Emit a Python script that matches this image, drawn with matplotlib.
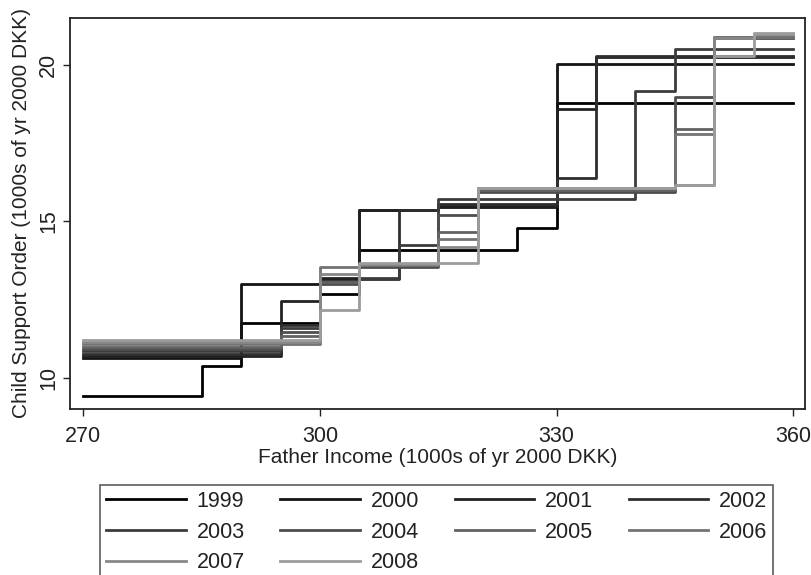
import matplotlib
matplotlib.use("Agg")
import matplotlib.pyplot as plt

plt.rcParams['font.family'] = ['Liberation Sans', 'DejaVu Sans']

# bin edges of father income (1000s of yr 2000 DKK)
edges = [270, 285, 290, 295, 300, 305, 310, 315, 320, 325, 330, 335, 340, 345, 350, 355, 360]

# child support order per income bin, one list per year
y1999 = [9.43, 10.36, 11.76, 11.76, 12.67, 14.08, 14.08, 14.08, 14.08, 14.78, 18.77, 18.77, 18.77, 18.77, 18.77, 18.77]
y2000 = [10.63, 10.63, 13.00, 13.00, 13.15, 15.37, 15.37, 15.45, 15.45, 15.45, 20.04, 20.04, 20.04, 20.04, 20.04, 20.04]
y2001 = [10.70, 10.70, 10.70, 12.46, 13.20, 15.37, 15.37, 15.50, 15.50, 15.50, 18.59, 20.25, 20.25, 20.25, 20.25, 20.25]
y2002 = [10.76, 10.76, 10.76, 11.69, 13.05, 13.15, 15.37, 15.55, 15.55, 15.55, 16.37, 20.30, 20.30, 20.30, 20.30, 20.30]
y2003 = [10.84, 10.84, 10.84, 11.59, 13.10, 13.20, 14.24, 15.70, 15.70, 15.70, 15.70, 15.70, 19.17, 20.50, 20.50, 20.50]
y2004 = [10.91, 10.91, 10.91, 11.47, 13.00, 13.55, 13.55, 15.20, 15.95, 15.95, 15.95, 15.95, 15.95, 18.96, 20.85, 20.85]
y2005 = [10.98, 10.98, 10.98, 11.34, 13.05, 13.60, 13.60, 14.66, 16.00, 16.00, 16.00, 16.00, 16.00, 17.96, 20.90, 20.90]
y2006 = [11.07, 11.07, 11.07, 11.07, 13.55, 13.60, 13.60, 14.45, 16.05, 16.05, 16.05, 16.05, 16.05, 17.80, 20.90, 20.90]
y2007 = [11.15, 11.15, 11.15, 11.15, 13.30, 13.65, 13.65, 14.17, 16.08, 16.08, 16.08, 16.08, 16.08, 16.15, 20.85, 21.00]
y2008 = [11.21, 11.21, 11.21, 11.21, 12.17, 13.66, 13.66, 13.66, 16.05, 16.05, 16.05, 16.05, 16.05, 16.15, 20.30, 21.03]

years = ['1999', '2000', '2001', '2002', '2003', '2004', '2005', '2006', '2007', '2008']
series = [y1999, y2000, y2001, y2002, y2003, y2004, y2005, y2006, y2007, y2008]
grays = ['#000000', '#141414', '#222222', '#2e2e2e', '#3c3c3c',
         '#4e4e4e', '#626262', '#737373', '#878787', '#9c9c9c']

fig = plt.figure(figsize=(8.12, 5.75), dpi=100)
ax = fig.add_axes([70 / 812, 1 - 409 / 575, 735 / 812, 391 / 575])

lines = []
for yr, vals, c in zip(years, series, grays):
    ln, = ax.step(edges, vals + [vals[-1]], where='post', color=c, lw=2.0, label=yr)
    lines.append(ln)

ax.set_xlim(268.3, 361.5)
ax.set_ylim(9.0, 21.5)
ax.set_xticks([270, 300, 330, 360])
ax.set_yticks([10, 15, 20])
ax.tick_params(direction='out', length=5, width=1, labelsize=15.5, colors='#222222')
ax.tick_params(axis='x', pad=7)
ax.tick_params(axis='y', pad=3)
for lab in ax.get_yticklabels():
    lab.set_rotation(90)
    lab.set_va('center')
for sp in ax.spines.values():
    sp.set_linewidth(1.3)
    sp.set_color('#222222')

ax.set_xlabel('Father Income (1000s of yr 2000 DKK)', fontsize=15, color='#222222', labelpad=1)
ax.set_ylabel('Child Support Order (1000s of yr 2000 DKK)', fontsize=15, color='#222222', labelpad=5)

# legend filled row by row like the original (matplotlib fills by column)
order = [0, 4, 8, 1, 5, 9, 2, 6, 3, 7]
leg = fig.legend([lines[i] for i in order], [years[i] for i in order],
                 loc='upper left', bbox_to_anchor=(100 / 812, 1 - 485 / 575), ncol=4,
                 fontsize=15.5, handlelength=3.7, handletextpad=0.5, columnspacing=1.65,
                 labelspacing=0.45, borderpad=0.28, borderaxespad=0, fancybox=False)
leg.get_frame().set_edgecolor('#333333')
leg.get_frame().set_linewidth(1.2)
for t in leg.get_texts():
    t.set_color('#222222')

fig.savefig('out.png', dpi=100)
